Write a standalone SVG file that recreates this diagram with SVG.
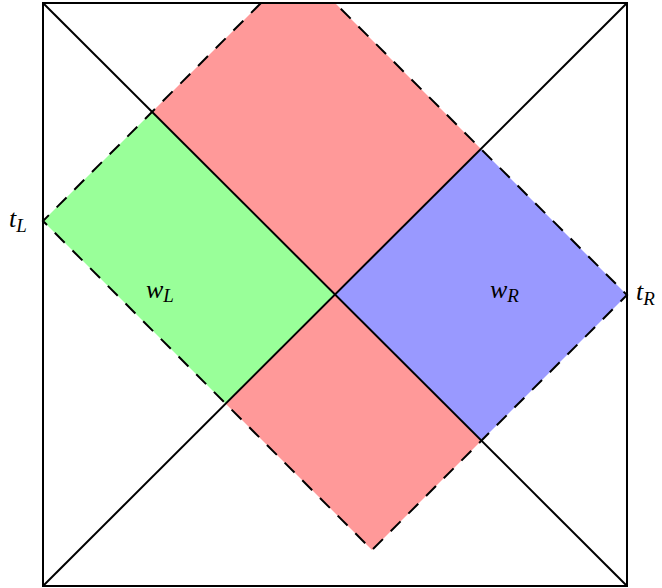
<svg xmlns="http://www.w3.org/2000/svg" width="662" height="588" viewBox="0 0 662 588">
<style>
.red{fill:#ff9999}
.green{fill:#99ff99}
.blue{fill:#9999ff}
.solid{fill:none;stroke:#000;stroke-width:2}
.dash{fill:none;stroke:#000;stroke-width:2;stroke-dasharray:14 11}
.lbl{font-family:"Liberation Serif",serif;font-style:italic;font-size:26px;fill:#000}
.sub{font-size:19px}
</style>
<rect width="662" height="588" fill="#fff"/>
<g id="regions">
<polygon id="red-top" class="red" points="152,112 261,3 335,3 481,149 335,295"/>
<polygon id="red-bottom" class="red" points="335,295 226,404 372,550 481,441"/>
<polygon id="green" class="green" points="43,221 152,112 335,295 226,404"/>
<polygon id="blue" class="blue" points="627,295 481,149 335,295 481,441"/>
</g>
<g id="connectors">
<rect class="solid" x="43" y="3" width="584" height="583"/>
<line class="solid" x1="43" y1="3" x2="627" y2="586"/>
<line class="solid" x1="627" y1="3" x2="43" y2="586"/>
<polyline class="dash" points="261,3 43,221 372,550 627,295 335,3"/>
</g>
<g id="tL"><text class="lbl" x="9" y="227">t<tspan class="sub" dy="5">L</tspan></text></g>
<g id="tR"><text class="lbl" x="636" y="300">t<tspan class="sub" dy="5">R</tspan></text></g>
<g id="wL"><text class="lbl" x="146" y="298">w<tspan class="sub" dy="4">L</tspan></text></g>
<g id="wR"><text class="lbl" x="490" y="298">w<tspan class="sub" dy="4">R</tspan></text></g>
</svg>
